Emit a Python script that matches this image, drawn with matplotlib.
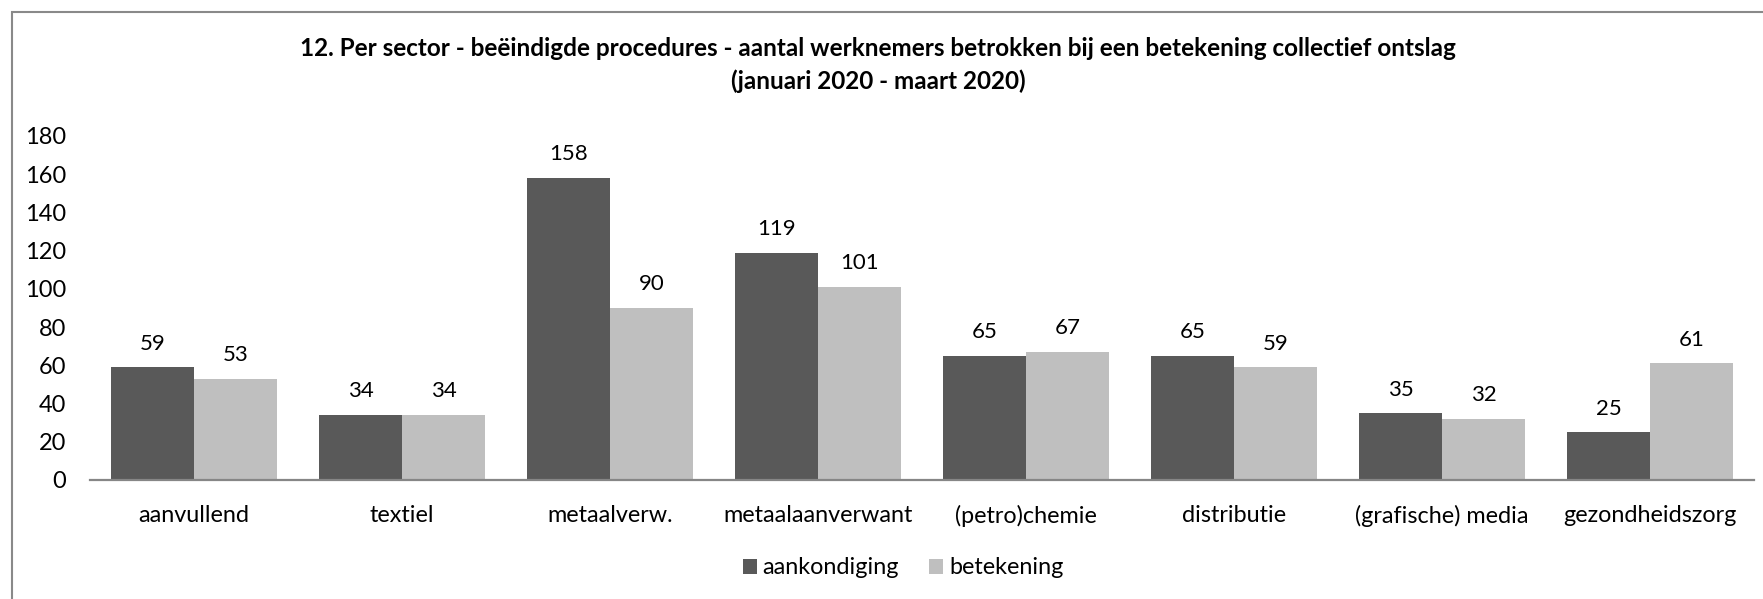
import matplotlib
matplotlib.use("Agg")
import matplotlib.pyplot as plt
import numpy as np
from matplotlib.patches import Rectangle

# Data
sectors = ["aanvullend", "textiel", "metaalverw.", "metaalaanverwant",
           "(petro)chemie", "distributie", "(grafische) media", "gezondheidszorg"]
aankondiging = [59, 34, 158, 119, 65, 65, 35, 25]
betekening = [53, 34, 90, 101, 67, 59, 32, 61]
yticks = [0, 20, 40, 60, 80, 100, 120, 140, 160, 180]

title = ("12. Per sector - beëindigde procedures - aantal werknemers betrokken "
         "bij een betekening collectief ontslag\n(januari 2020 - maart 2020)")

plt.rcParams["font.family"] = ["Lato", "DejaVu Sans"]

W, H = 1763, 599
fig = plt.figure(figsize=(W / 100, H / 100), dpi=100)
ax = fig.add_axes([90 / W, 1 - 480 / H, (1754 - 90) / W, (480 - 136) / H])

x = np.arange(len(sectors))
bw = 0.4
dark = "#595959"
light = "#bfbfbf"
b1 = ax.bar(x - bw / 2, aankondiging, bw, color=dark, label="aankondiging")
b2 = ax.bar(x + bw / 2, betekening, bw, color=light, label="betekening")

for bars, vals in [(b1, aankondiging), (b2, betekening)]:
    for rect, v in zip(bars, vals):
        ax.annotate(str(v), (rect.get_x() + rect.get_width() / 2, v),
                    xytext=(0, 17), textcoords="offset points",
                    ha="center", va="center", fontsize=16, color="#000000")

ax.set_xlim(-0.5, len(sectors) - 0.5)
ax.set_ylim(0, 180)
ax.set_yticks(yticks)
ax.set_xticks(x)
ax.set_xticklabels(sectors)
ax.tick_params(axis="y", length=0, pad=17, labelsize=17)
ax.tick_params(axis="x", length=0, pad=18, labelsize=16.8)

for s in ["top", "right", "left"]:
    ax.spines[s].set_visible(False)
ax.spines["bottom"].set_color("#868686")
ax.spines["bottom"].set_linewidth(1.6)

fig.text(878 / W, 1 - 65 / H, title, ha="center", va="center",
         fontsize=17.5, fontweight="bold", linespacing=1.45)

fig.legend(handles=[b1, b2], loc="center", bbox_to_anchor=(903 / W, 1 - 568 / H),
           ncol=2, frameon=False, fontsize=16.8, handlelength=0.6, handleheight=0.6,
           handletextpad=0.25, columnspacing=1.3)

# chart area border (top and left visible)
fig.patches.append(Rectangle((12 / W, -0.1), 1.2, (H - 12) / H + 0.1,
                             transform=fig.transFigure, fill=False,
                             edgecolor="#898989", linewidth=1.5))

fig.savefig("out.png", dpi=100, facecolor="white")
